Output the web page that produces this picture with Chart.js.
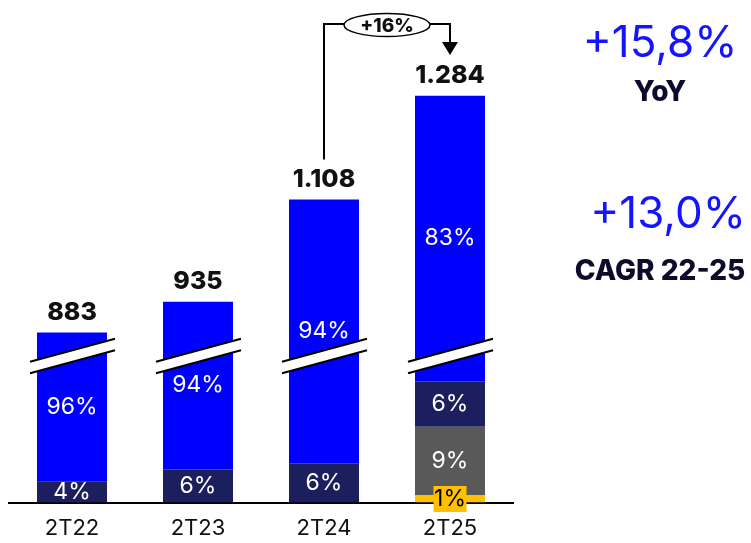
<!DOCTYPE html>
<html>
<head>
<meta charset="utf-8">
<script src="https://cdn.jsdelivr.net/npm/chart.js@4/dist/chart.umd.min.js"></script>
<style>
  html, body { margin: 0; padding: 0; background: #ffffff; }
  #wrap { width: 751px; height: 543px; }
</style>
</head>
<body>
<div id="wrap"><canvas id="c" width="751" height="543"></canvas></div>
<script>
// ---- data ----
const categories = ['2T22', '2T23', '2T24', '2T25'];
const totals = [883, 935, 1108, 1284];
const blueShare = [96, 94, 94, 83];
const navyShare = [4, 6, 6, 6];
const grayShare = [0, 0, 0, 9];
const yellowShare = [0, 0, 0, 1];
const growthLabel = '+16%';
const yoyValue = '+15,8%';
const yoyLabel = 'YoY';
const cagrValue = '+13,0%';
const cagrLabel = 'CAGR 22-25';
// units hidden by the broken (cut) axis
const axisBreakGap = 595;
const axisBreakAt = 248;

// ---- derived segment values ----
const yellowVals = totals.map((t, i) => t * yellowShare[i] / 100);
const grayVals = totals.map((t, i) => t * grayShare[i] / 100);
const navyVals = totals.map((t, i) => t * navyShare[i] / 100);
const blueVals = totals.map((t, i) => t - yellowVals[i] - grayVals[i] - navyVals[i] - axisBreakGap);

const COLORS = { blue: '#0000FF', navy: '#1C1F5E', gray: '#595959', yellow: '#FFC000' };
const FONT = 'Inter, "DejaVu Sans", sans-serif';

function fmt(n) { return String(n).replace(/\B(?=(\d{3})+(?!\d))/g, '.'); }

const overlay = {
  id: 'overlay',
  afterDatasetsDraw(chart) {
    const ctx = chart.ctx;
    const yS = chart.scales.y;
    const topMeta = chart.getDatasetMeta(3);
    ctx.save();
    // axis break marks
    const yc = yS.getPixelForValue(axisBreakAt);
    const s = 23 / 85;
    topMeta.data.forEach((bar) => {
      const x = bar.x, xl = x - 42, xr = x + 43;
      const yTop = (px) => yc - 5.75 - s * (px - x);
      const yBot = (px) => yc + 5.75 - s * (px - x);
      ctx.fillStyle = '#ffffff';
      ctx.beginPath();
      ctx.moveTo(xl, yTop(xl)); ctx.lineTo(xr, yTop(xr));
      ctx.lineTo(xr, yBot(xr)); ctx.lineTo(xl, yBot(xl));
      ctx.closePath(); ctx.fill();
      ctx.strokeStyle = '#000'; ctx.lineWidth = 2;
      ctx.beginPath();
      ctx.moveTo(xl, yTop(xl)); ctx.lineTo(xr, yTop(xr));
      ctx.moveTo(xl, yBot(xl)); ctx.lineTo(xr, yBot(xr));
      ctx.stroke();
    });

    // segment percentage labels
    const shares = [yellowShare, grayShare, navyShare, blueShare];
    ctx.textAlign = 'center';
    ctx.textBaseline = 'middle';
    shares.forEach((arr, di) => {
      const meta = chart.getDatasetMeta(di);
      meta.data.forEach((el, i) => {
        if (!arr[i]) return;
        const p = el.getProps(['x', 'y', 'base'], true);
        const cy = (p.y + p.base) / 2;
        ctx.font = '400 23px ' + FONT;
        if (di === 0) {
          ctx.fillStyle = COLORS.yellow;
          ctx.fillRect(p.x - 16.5, p.base - 16.5, 33, 26);
          ctx.fillStyle = '#000';
          ctx.fillText(arr[i] + '%', p.x, p.base - 3);
        } else {
          ctx.fillStyle = '#ffffff';
          ctx.fillText(arr[i] + '%', p.x, cy);
        }
      });
    });

    // totals above bars
    ctx.font = '800 25px ' + FONT;
    ctx.fillStyle = '#111111';
    topMeta.data.forEach((el, i) => {
      ctx.fillText(fmt(totals[i]), el.x, el.y - 20);
    });

    // growth bracket between last two bars
    const a = topMeta.data[2], b = topMeta.data[3];
    const lineY = 24;
    const ex = (a.x + b.x) / 2, ey = 25, rx = 43, ry = 11.5;
    ctx.strokeStyle = '#000'; ctx.lineWidth = 2;
    ctx.beginPath();
    ctx.moveTo(a.x, a.y - 40); ctx.lineTo(a.x, lineY); ctx.lineTo(ex - rx, lineY);
    ctx.moveTo(ex + rx, lineY); ctx.lineTo(b.x, lineY); ctx.lineTo(b.x, 43);
    ctx.stroke();
    ctx.fillStyle = '#000';
    ctx.beginPath();
    ctx.moveTo(b.x - 8, 42); ctx.lineTo(b.x + 8, 42); ctx.lineTo(b.x, 55);
    ctx.closePath(); ctx.fill();
    ctx.lineWidth = 1.5;
    ctx.fillStyle = '#fff';
    ctx.beginPath();
    ctx.ellipse(ex, ey, rx, ry, 0, 0, Math.PI * 2);
    ctx.fill(); ctx.stroke();
    ctx.fillStyle = '#111';
    ctx.font = '800 19px ' + FONT;
    ctx.fillText(growthLabel, ex, ey + 1);

    // right-side KPIs
    ctx.fillStyle = '#1414FF';
    ctx.font = '400 44px ' + FONT;
    ctx.fillText(yoyValue, 660, 44);
    ctx.fillText(cagrValue, 668, 215);
    ctx.fillStyle = '#0C0C2A';
    ctx.font = '800 28px ' + FONT;
    ctx.fillText(yoyLabel, 660, 93);
    ctx.fillText(cagrLabel, 660, 272);
    ctx.restore();
  }
};

const mk = (label, data, color) => ({
  label, data, backgroundColor: color, borderWidth: 0,
  barPercentage: 70 / 126, categoryPercentage: 1
});

new Chart(document.getElementById('c'), {
  type: 'bar',
  data: {
    labels: categories,
    datasets: [
      mk('yellow', yellowVals, COLORS.yellow),
      mk('gray', grayVals, COLORS.gray),
      mk('navy', navyVals, COLORS.navy),
      mk('blue', blueVals, COLORS.blue)
    ]
  },
  options: {
    responsive: false,
    animation: false,
    devicePixelRatio: 1,
    layout: { padding: { left: 9, right: 238, top: 0, bottom: 0 } },
    plugins: { legend: { display: false }, tooltip: { enabled: false } },
    scales: {
      x: {
        stacked: true,
        grid: { display: false, drawTicks: false },
        border: { display: true, color: '#000', width: 2 },
        ticks: { color: '#111', font: { family: FONT, size: 22 }, padding: 13 },
        afterFit(scale) { scale.height = 40.5; }
      },
      y: { stacked: true, display: false, min: 0, max: 851 }
    }
  },
  plugins: [overlay]
});
</script>
</body>
</html>
